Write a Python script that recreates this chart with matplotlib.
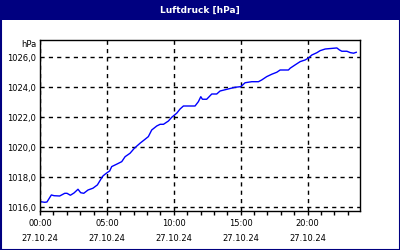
import matplotlib
matplotlib.use("Agg")
import matplotlib.pyplot as plt
from matplotlib.patches import Rectangle
from matplotlib.ticker import MultipleLocator, FixedLocator

hours = [0.05, 0.35, 0.52, 0.85, 1.05, 1.47, 1.85, 2.02, 2.27, 2.54, 2.84, 3.04, 3.27, 3.59,
         3.96, 4.29, 4.59, 4.71, 4.89, 5.09, 5.21, 5.36, 5.73, 6.11, 6.36, 6.73, 7.05, 7.48,
         7.85, 8.10, 8.35, 8.73, 8.98, 9.23, 9.60, 9.85, 10.22, 10.47, 10.72, 11.59, 11.84,
         12.02, 12.14, 12.46, 12.84, 13.21, 13.46, 14.09, 14.59, 15.01, 15.33, 15.83, 16.33,
         16.58, 16.95, 17.33, 17.70, 17.95, 18.57, 18.70, 19.07, 19.45, 19.82, 20.07, 20.32,
         20.69, 20.94, 21.32, 21.94, 22.19, 22.38, 22.56, 22.94, 23.19, 23.44, 23.64]
pressure = [1016.37, 1016.33, 1016.35, 1016.82, 1016.77, 1016.75, 1016.93, 1016.93, 1016.80,
            1016.95, 1017.20, 1016.97, 1016.93, 1017.15, 1017.27, 1017.49, 1017.93, 1018.09,
            1018.22, 1018.35, 1018.42, 1018.71, 1018.87, 1019.04, 1019.37, 1019.60, 1019.93,
            1020.27, 1020.53, 1020.71, 1021.15, 1021.42, 1021.53, 1021.53, 1021.75, 1022.00,
            1022.27, 1022.55, 1022.75, 1022.75, 1023.04, 1023.37, 1023.20, 1023.20, 1023.55,
            1023.55, 1023.75, 1023.89, 1024.00, 1024.04, 1024.30, 1024.37, 1024.37, 1024.49,
            1024.71, 1024.87, 1025.00, 1025.15, 1025.15, 1025.27, 1025.49, 1025.71, 1025.82,
            1025.95, 1026.15, 1026.30, 1026.44, 1026.55, 1026.60, 1026.62, 1026.49, 1026.40,
            1026.40, 1026.31, 1026.27, 1026.33]

x_tick_pos = [0, 5, 10, 15, 20]
x_tick_labels = ["00:00\n27.10.24", "05:00\n27.10.24", "10:00\n27.10.24",
                 "15:00\n27.10.24", "20:00\n27.10.24"]
y_ticks = [1016, 1018, 1020, 1022, 1024, 1026]
y_tick_labels = ["1016,0", "1018,0", "1020,0", "1022,0", "1024,0", "1026,0"]
title = "Luftdruck [hPa]"
unit = "hPa"

navy = "#000080"
fig = plt.figure(figsize=(4, 2.5), dpi=100)
fig.patch.set_facecolor("white")

# frame and title bar
fig.add_artist(Rectangle((0.5 / 400, 0.5 / 250), 399 / 400, 249 / 250, transform=fig.transFigure,
                         fill=False, edgecolor=navy, linewidth=1.5, zorder=0))
fig.add_artist(Rectangle((0, 1 - 20 / 250), 1, 20 / 250, transform=fig.transFigure,
                         facecolor=navy, edgecolor="none", zorder=1))
fig.text(0.5, 1 - 10 / 250, title, color="white", fontsize=6.5, fontweight="bold",
         ha="center", va="center")

ax = fig.add_axes([40 / 400, (250 - 211) / 250, 320 / 400, 171 / 250])
ax.plot(hours, pressure, color="#0000ff", linewidth=1)
ax.set_xlim(0, 23.92)
ax.set_ylim(1015.75, 1027.15)

ax.xaxis.set_major_locator(FixedLocator(x_tick_pos))
ax.set_xticklabels(x_tick_labels, fontsize=6, linespacing=1.75)
ax.xaxis.set_minor_locator(MultipleLocator(1))
ax.yaxis.set_major_locator(FixedLocator(y_ticks))
ax.set_yticklabels(y_tick_labels, fontsize=6)

ax.tick_params(axis="x", which="both", direction="out", length=3, width=1, pad=3, color="black")
ax.tick_params(axis="y", which="both", length=0, pad=3)
ax.grid(True, which="major", color="black", linestyle=(0, (3, 3)), linewidth=1)
for s in ax.spines.values():
    s.set_color("black")
    s.set_linewidth(1)

fig.text(37 / 400, 1 - 45 / 250, unit, fontsize=6, ha="right", va="center")

fig.savefig("out.png", dpi=100)
